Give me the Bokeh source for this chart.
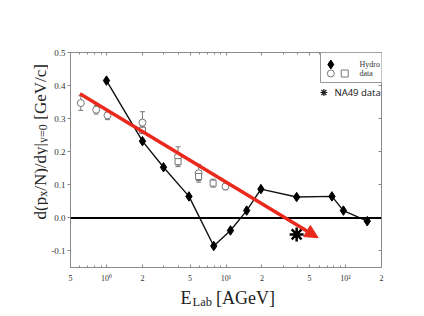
import math
from bokeh.plotting import figure
from bokeh.layouts import row, column
from bokeh.models import (ColumnDataSource, FixedTicker, CustomJSTickFormatter, PrintfTickFormatter,
                          Span, Arrow, NormalHead, Whisker, TeeHead, Label, BoxAnnotation, LogAxis, LinearAxis,
                          Range1d)
from bokeh.embed import file_html
from bokeh.resources import INLINE

# ---------------- data ----------------
hydro_E = [1.0, 2.0, 3.0, 4.9, 7.9, 10.9, 14.9, 19.6, 39.0, 77.0, 96.0, 152.0]
hydro_v = [0.415, 0.232, 0.153, 0.065, -0.085, -0.038, 0.022, 0.087, 0.063, 0.065, 0.022, -0.010]

circ_E = [0.61, 0.82, 1.02, 2.0, 3.97, 5.9, 9.9]
circ_v = [0.347, 0.327, 0.310, 0.288, 0.185, 0.135, 0.095]
circ_err = [0.022, 0.013, 0.013, 0.033, 0.030, 0.027, 0.010]

sq_E = [2.0, 3.97, 5.9, 7.8]
sq_v = [0.265, 0.170, 0.125, 0.105]
sq_err = [0.010, 0.010, 0.012, 0.012]

na49_E = [39.0]
na49_v = [-0.05]

arrow_E = [0.6, 59.0]
arrow_v = [0.375, -0.06]

x_ticks = [0.5, 1, 2, 5, 10, 20, 50, 100, 200]
x_tick_labels = ["5", "10\u2070", "2", "5", "10\u00b9", "2", "5", "10\u00b2", "2"]
x_minor = [0.6, 0.7, 0.8, 0.9, 3, 4, 6, 7, 8, 9, 30, 40, 60, 70, 80, 90]
y_ticks = [-0.1, 0.0, 0.1, 0.2, 0.3, 0.4, 0.5]

X_RANGE = (0.5, 200.0)
Y_RANGE = (-0.15, 0.5)

# ---------------- layout ----------------
WY = 48                      # width of the strip holding the y title
FW, FH = 313, 215            # plot frame
BL, BR, BT, BB = 20, 35, 52, 18
PW, PH = BL + FW + BR, BT + FH + BB
XH = 25                      # height of the strip holding the x title
SERIF = "Liberation Serif"
AXC = "#8a8a8a"
TXC = "#333333"
TITC = "#222222"

p = figure(width=PW, height=PH, x_axis_type="log",
           x_range=Range1d(*X_RANGE), y_range=Range1d(*Y_RANGE),
           output_backend="svg", toolbar_location=None,
           min_border_left=BL, min_border_right=BR, min_border_top=BT, min_border_bottom=BB)
p.xgrid.visible = False
p.ygrid.visible = False
p.outline_line_color = AXC
p.background_fill_color = "white"
p.border_fill_color = "white"


def sx2x(sx):
    lo, hi = math.log10(X_RANGE[0]), math.log10(X_RANGE[1])
    return 10 ** (lo + sx / FW * (hi - lo))


def sy2y(sy):
    return Y_RANGE[0] + sy / FH * (Y_RANGE[1] - Y_RANGE[0])


xfmt = CustomJSTickFormatter(args=dict(vals=x_ticks, labs=x_tick_labels), code="""
for (let i = 0; i < vals.length; i++) {
  if (Math.abs(Math.log(vals[i] / tick)) < 1e-6) return labs[i];
}
return "";
""")

# bottom axis
xa = p.xaxis[0]
xa.ticker = FixedTicker(ticks=x_ticks, minor_ticks=x_minor)
xa.formatter = xfmt
xa.axis_line_color = AXC
xa.major_tick_line_color = AXC
xa.minor_tick_line_color = AXC
xa.major_tick_in = 3
xa.major_tick_out = 0
xa.minor_tick_in = 2
xa.minor_tick_out = 0
xa.major_label_text_font = SERIF
xa.major_label_text_font_size = "8px"
xa.major_label_text_color = TXC
xa.major_label_standoff = 6

# left axis
ya = p.yaxis[0]
ya.ticker = FixedTicker(ticks=y_ticks, minor_ticks=[])
ya.formatter = PrintfTickFormatter(format="%.1f")
ya.axis_line_color = AXC
ya.major_tick_line_color = AXC
ya.major_tick_in = 0
ya.major_tick_out = 3
ya.minor_tick_line_color = None
ya.major_label_text_font = SERIF
ya.major_label_text_font_size = "9px"
ya.major_label_text_color = TXC
ya.major_label_standoff = 2

# top and right axes (ticks only, no labels)
top = LogAxis(ticker=FixedTicker(ticks=x_ticks, minor_ticks=x_minor), axis_line_color=AXC,
              major_tick_line_color=AXC, minor_tick_line_color=AXC, major_tick_in=3, major_tick_out=0,
              minor_tick_in=2, minor_tick_out=0, major_label_text_color=None)
p.add_layout(top, "above")
right = LinearAxis(ticker=FixedTicker(ticks=y_ticks, minor_ticks=[]), axis_line_color=AXC,
                   major_tick_line_color=AXC, major_tick_in=3, major_tick_out=0,
                   minor_tick_line_color=None, major_label_text_color=None)
p.add_layout(right, "right")

# zero line
p.add_layout(Span(location=0, dimension="width", line_color="black", line_width=2))

# error bars
DATAC = "#777777"
csrc = ColumnDataSource(dict(x=circ_E, y=circ_v,
                             lo=[v - e for v, e in zip(circ_v, circ_err)],
                             hi=[v + e for v, e in zip(circ_v, circ_err)]))
ssrc = ColumnDataSource(dict(x=sq_E, y=sq_v,
                             lo=[v - e for v, e in zip(sq_v, sq_err)],
                             hi=[v + e for v, e in zip(sq_v, sq_err)]))
for src in (csrc, ssrc):
    p.add_layout(Whisker(source=src, base="x", lower="lo", upper="hi", dimension="height",
                         line_color=DATAC, line_width=1,
                         lower_head=TeeHead(size=5, line_color=DATAC, line_width=1),
                         upper_head=TeeHead(size=5, line_color=DATAC, line_width=1)))

p.scatter("x", "y", source=csrc, marker="circle", size=7, fill_color="white",
          line_color=DATAC, line_width=1)
p.scatter("x", "y", source=ssrc, marker="square", size=6, fill_color="white",
          line_color=DATAC, line_width=1)

# hydro
p.line(hydro_E, hydro_v, line_color="#111111", line_width=1.4)
p.scatter(hydro_E, hydro_v, marker="diamond", size=9.5, fill_color="black", line_color="black")

# NA49
p.scatter(na49_E, na49_v, marker="asterisk", size=14, line_color="black", line_width=2.5)

# red arrow
RED = "#e8291c"
p.add_layout(Arrow(x_start=arrow_E[0], y_start=arrow_v[0], x_end=arrow_E[1], y_end=arrow_v[1],
                   line_color=RED, line_width=3.5,
                   end=NormalHead(size=13, fill_color=RED, line_color=RED, line_width=1)))

# legend (manual)
p.add_layout(BoxAnnotation(left=250, right=FW, top=FH, bottom=185,
                           left_units="screen", right_units="screen", top_units="screen",
                           bottom_units="screen", fill_color="white", fill_alpha=1,
                           line_color="#999999", line_alpha=1, line_width=1, level="annotation"))
p.scatter([sx2x(262)], [sy2y(203)], marker="diamond", size=9, fill_color="black",
          line_color="black", level="overlay")
p.scatter([sx2x(262)], [sy2y(194)], marker="circle", size=7, fill_color="white",
          line_color=DATAC, level="overlay")
p.scatter([sx2x(276)], [sy2y(194)], marker="square", size=7, fill_color="white",
          line_color=DATAC, level="overlay")
p.add_layout(Label(x=289, y=203, x_units="screen", y_units="screen", text="Hydro",
                   text_font=SERIF, text_font_size="8px", text_color=TXC, text_baseline="middle"))
p.add_layout(Label(x=289, y=194, x_units="screen", y_units="screen", text="data",
                   text_font=SERIF, text_font_size="8px", text_color=TXC, text_baseline="middle"))
p.scatter([sx2x(255)], [sy2y(175)], marker="asterisk", size=7, line_color="#222222",
          line_width=1.2, level="overlay")
p.add_layout(Label(x=264, y=175, x_units="screen", y_units="screen", text="NA49 data",
                   text_font="Open Sans", text_font_size="9.5px", text_color="#111111",
                   text_baseline="middle"))

# ---------------- axis titles (strips holding pieces for subscripts) ----------------
TW = {"d": 500, "(": 333, "p": 500, "/": 278, "N": 722, ")": 333, "y": 500, "|": 200, " ": 250,
      "[": 333, "G": 722, "e": 444, "V": 722, "c": 444, "]": 333, "x": 500, "=": 564, "0": 500,
      "E": 611, "L": 611, "a": 444, "b": 500, "A": 722}


def tw(s, size):
    return sum(TW[c] for c in s) * size / 1000.0


def strip(w, h):
    f = figure(width=w, height=h, output_backend="svg", toolbar_location=None,
               x_axis_location=None, y_axis_location=None, x_range=Range1d(0, 1), y_range=Range1d(0, 1),
               min_border=0, min_border_left=0, min_border_right=0, min_border_top=0, min_border_bottom=0)
    f.grid.visible = False
    f.outline_line_color = None
    f.background_fill_color = "white"
    f.border_fill_color = "white"
    return f


# y title: (text, size, baseline shift, gap before)
YM, YS = 17, 12
fy = strip(WY, PH)
pieces = [("d(p", YM, 0, 0), ("x", YS, 2, 0), ("/N)/dy|", YM, 0, 0), ("y=0", YS, 2, 0),
          ("[GeV/c]", YM, 0, 4.5)]
pos = PH - 237.0
for txt, sz, off, gap in pieces:
    pos += gap
    fy.add_layout(Label(x=40 + off, y=pos, x_units="screen", y_units="screen", text=txt,
                        angle=math.pi / 2, text_font=SERIF, text_font_size=f"{sz}px",
                        text_color=TITC, text_baseline="alphabetic", text_align="left"))
    pos += tw(txt, sz)

# x title
XM, XS = 18, 12.5
fx = strip(WY + PW, XH)
pieces = [("E", XM, 0, 0), ("Lab", XS, -4.5, 1), ("[AGeV]", XM, 0, 4)]
pos = 180.0
for txt, sz, off, gap in pieces:
    pos += gap
    fx.add_layout(Label(x=pos, y=13 + off, x_units="screen", y_units="screen", text=txt,
                        text_font=SERIF, text_font_size=f"{sz}px", text_color=TITC,
                        text_baseline="alphabetic", text_align="left"))
    pos += tw(txt, sz)

layout = column(row(fy, p, spacing=0), fx, spacing=0)

open("out.html", "w").write(file_html(layout, INLINE))
